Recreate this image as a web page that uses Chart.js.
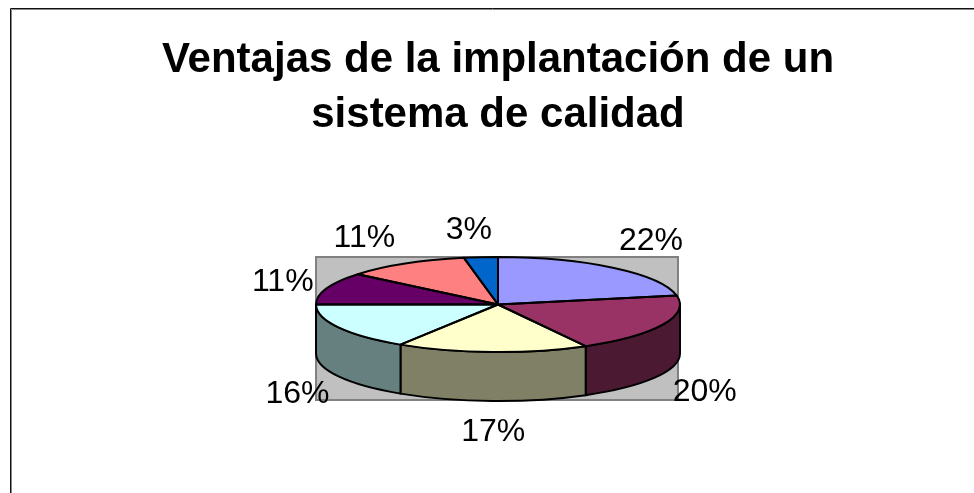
<!DOCTYPE html>
<html><head><meta charset="utf-8">
<style>html,body{margin:0;padding:0;background:#fff;overflow:hidden}canvas{display:block}</style>
<script src="https://cdn.jsdelivr.net/npm/chart.js@4"></script></head>
<body><div style="width:974px;height:493px;position:relative"><canvas id="c" width="974" height="493"></canvas></div>
<script>
const categories = ['A','B','C','D','E','F','G'];
const values = [22,20,17,16,11,11,3];
const colors = ['#9999FF','#993366','#FFFFCC','#CCFFFF','#660066','#FF8080','#0066CC'];
const sideColors = ['#4C4C80','#4C1933','#808066','#668080','#330033','#804040','#003366'];
const titleLines = ['Ventajas de la implantación de un','sistema de calidad'];
// label offsets from the slice's rim
const labelOffsets = [[37,-27],[42,18],[1,31],[-41,18],[-44,-6],[-41,-25],[-12,-27]];
const squash = 47.5/182, depth = 49;

function geom(chart){
  const a = chart.getDatasetMeta(0).data[0];
  return {cx:a.x, cy:a.y, r:a.outerRadius, ry:a.outerRadius*squash};
}
const pie3d = {
  id:'pie3d',
  beforeDraw(chart){
    const c = chart.ctx;
    c.save(); c.lineWidth=1;
    c.strokeStyle='#888';
    c.beginPath(); c.moveTo(11.5,493); c.lineTo(11.5,9.5); c.lineTo(974,9.5); c.stroke();
    c.strokeStyle='#111';
    c.beginPath(); c.moveTo(10.5,493); c.lineTo(10.5,8.5); c.lineTo(974,8.5); c.stroke();
    c.restore();
  },
  beforeDatasetsDraw(chart){
    const c = chart.ctx, g = geom(chart), arcs = chart.getDatasetMeta(0).data;
    c.save();
    // gray wall
    c.fillStyle='#C0C0C0'; c.strokeStyle='#808080'; c.lineWidth=2;
    c.beginPath(); c.rect(g.cx-g.r, g.cy-g.ry, 2*g.r-2, 2*g.ry+depth-1); c.fill(); c.stroke();
    // sides
    c.strokeStyle='#000'; c.lineWidth=2; c.lineJoin='round';
    arcs.forEach((a,i)=>{
      let s=a.startAngle, e=a.endAngle;
      const two=Math.PI*2;
      [[0,Math.PI],[two,two+Math.PI]].forEach(([lo,hi])=>{
        const s1=Math.max(s,lo), e1=Math.min(e,hi);
        if(e1<=s1) return;
        c.beginPath();
        c.ellipse(g.cx,g.cy,g.r,g.ry,0,s1,e1);
        c.lineTo(g.cx+g.r*Math.cos(e1),g.cy+g.ry*Math.sin(e1)+depth);
        c.ellipse(g.cx,g.cy+depth,g.r,g.ry,0,e1,s1,true);
        c.closePath();
        c.fillStyle=sideColors[i]; c.fill(); c.stroke();
      });
    });
    c.restore();
    // squash the pie itself
    c.save();
    c.translate(g.cx,g.cy); c.scale(1,squash); c.translate(-g.cx,-g.cy);
  },
  afterDatasetsDraw(chart){
    const c = chart.ctx;
    c.restore();
    const g = geom(chart), arcs = chart.getDatasetMeta(0).data;
    c.save();
    c.strokeStyle='#000'; c.lineWidth=2; c.lineJoin='round';
    arcs.forEach(a=>{
      c.beginPath();
      c.moveTo(g.cx,g.cy);
      c.ellipse(g.cx,g.cy,g.r,g.ry,0,a.startAngle,a.endAngle);
      c.closePath(); c.stroke();
    });
    c.fillStyle='#000';
    c.font='32px "Liberation Sans", Arial, sans-serif';
    c.textAlign='center'; c.textBaseline='middle';
    const total=values.reduce((p,v)=>p+v,0);
    arcs.forEach((a,i)=>{
      const m=(a.startAngle+a.endAngle)/2;
      const sin=Math.sin(m);
      const x=g.cx+g.r*Math.cos(m), y=g.cy+g.ry*sin+(sin>0?depth:0);
      c.fillText(Math.round(values[i]/total*100)+'%', x+labelOffsets[i][0], y+labelOffsets[i][1]);
    });
    c.restore();
  }
};
new Chart(document.getElementById('c'),{
  type:'pie',
  data:{labels:categories,datasets:[{data:values,backgroundColor:colors,borderWidth:0,clip:false}]},
  options:{
    responsive:false,animation:false,
    layout:{padding:{left:22,right:0,top:0,bottom:6.5}},
    plugins:{
      legend:{display:false},tooltip:{enabled:false},
      title:{display:true,text:titleLines,color:'#000',align:'center',
        font:{family:'"Liberation Sans", Arial, sans-serif',size:42,weight:'bold',lineHeight:1.31},
        padding:{top:32.5,bottom:-20}}
    }
  },
  plugins:[pie3d]
});
</script></body></html>
